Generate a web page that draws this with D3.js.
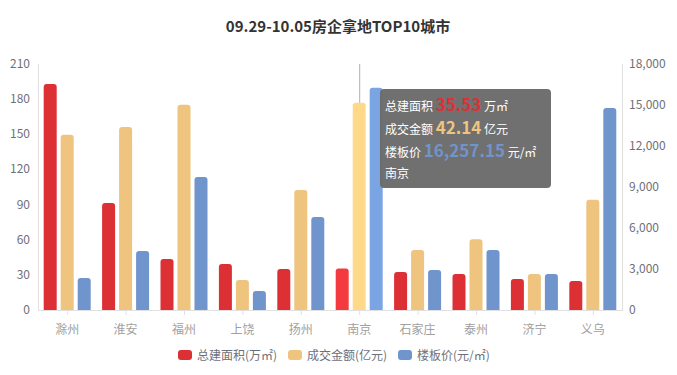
<!DOCTYPE html>
<meta charset="utf-8">
<title>房企拿地TOP10城市</title>
<style>
body { margin: 0; background: #fff; }
svg { font-family: "Noto Sans CJK SC", "Noto Sans", sans-serif; }
</style>
<svg width="677" height="375"></svg>
<script src="https://cdn.jsdelivr.net/npm/d3@7"></script>
<script>

var cities = ["滁州", "淮安", "福州", "上饶", "扬州", "南京", "石家庄", "泰州", "济宁", "义乌"];
var area = [193, 91.4, 43.5, 39.3, 35, 35.53, 32.5, 30.7, 26.5, 24.8];     // 万㎡
var amount = [35.6, 37.2, 41.7, 6.1, 24.4, 42.14, 12.2, 14.4, 7.3, 22.4];  // 亿元
var price = [2340, 4320, 9730, 1390, 6800, 16257.15, 2930, 4390, 2630, 14780]; // 元/㎡
var leftTicks = [0, 30, 60, 90, 120, 150, 180, 210];
var rightTicks = [0, 3000, 6000, 9000, 12000, 15000, 18000];
var seriesNames = ["总建面积(万㎡)", "成交金额(亿元)", "楼板价(元/㎡)"];
var hoverIndex = 5;

var colors = ["#dc3035", "#eec47f", "#7094cc"],
    hot = ["#f23a3f", "#ffd98a", "#7ba4e2"];

var svg = d3.select("svg"),
    pl = 38, pr = 622, pt = 64, pb = 310;

var x = d3.scaleBand().domain(cities).range([pl, pr]);
var yL = d3.scaleLinear().domain([0, 210]).range([pb, pt]);
var yA = d3.scaleLinear().domain([0, 50]).range([pb, pt]);
var yR = d3.scaleLinear().domain([0, 18000]).range([pb, pt]);

svg.append("text")
    .attr("x", 338).attr("y", 32)
    .attr("text-anchor", "middle")
    .attr("font-size", 15).attr("font-weight", "bold")
    .attr("fill", "#333")
    .text("09.29-10.05房企拿地TOP10城市");

// axes lines
svg.append("line").attr("x1", pl + 0.5).attr("x2", pl + 0.5).attr("y1", pt).attr("y2", pb).attr("stroke", "#e0e0e0");
svg.append("line").attr("x1", pr + 0.5).attr("x2", pr + 0.5).attr("y1", pt).attr("y2", pb).attr("stroke", "#e0e0e0");

svg.selectAll(".lt").data(leftTicks).enter().append("text")
    .attr("x", 30).attr("y", function(d) { return yL(d) + 4; })
    .attr("text-anchor", "end").attr("font-size", 12).attr("fill", "#6e7079")
    .text(function(d) { return d; });

svg.selectAll(".rt").data(rightTicks).enter().append("text")
    .attr("x", 629).attr("y", function(d) { return yR(d) + 4; })
    .attr("font-size", 12).attr("fill", "#6e7079")
    .text(d3.format(","));

// hover line
svg.append("line")
    .attr("x1", x(cities[hoverIndex]) + x.bandwidth() / 2 + 0.5)
    .attr("x2", x(cities[hoverIndex]) + x.bandwidth() / 2 + 0.5)
    .attr("y1", pt).attr("y2", pb)
    .attr("stroke", "#b0b0b0");

var barW = 13, step = 17;
var series = [
  { vals: area, y: yL },
  { vals: amount, y: yA },
  { vals: price, y: yR }
];

function barPath(x0, y0, w, h, r) {
  r = Math.min(r, h);
  return "M" + x0 + "," + (y0 + h) + "V" + (y0 + r) +
    "Q" + x0 + "," + y0 + " " + (x0 + r) + "," + y0 +
    "H" + (x0 + w - r) + "Q" + (x0 + w) + "," + y0 + " " + (x0 + w) + "," + (y0 + r) +
    "V" + (y0 + h) + "Z";
}

series.forEach(function(s, k) {
  svg.append("g").selectAll("path")
    .data(s.vals).enter().append("path")
      .attr("d", function(d, i) {
        var cx = x(cities[i]) + x.bandwidth() / 2;
        var x0 = cx - barW / 2 + (k - 1) * step;
        var y0 = s.y(d);
        return barPath(x0, y0, barW, pb - y0, 3);
      })
      .attr("fill", function(d, i) { return i === hoverIndex ? hot[k] : colors[k]; });
});

// x axis
svg.append("line").attr("x1", pl).attr("x2", pr + 1).attr("y1", pb + 0.5).attr("y2", pb + 0.5).attr("stroke", "#e0e0e0");
svg.selectAll(".xt").data(cities).enter().append("line")
    .attr("x1", function(d) { return x(d) + x.bandwidth() / 2 + 0.5; })
    .attr("x2", function(d) { return x(d) + x.bandwidth() / 2 + 0.5; })
    .attr("y1", pb).attr("y2", pb + 5)
    .attr("stroke", "#e0e0e0");
svg.selectAll(".xl").data(cities).enter().append("text")
    .attr("x", function(d) { return x(d) + x.bandwidth() / 2; })
    .attr("y", 334)
    .attr("text-anchor", "middle").attr("font-size", 12).attr("fill", "#a0a0a0")
    .text(function(d) { return d; });

// legend
var legX = [178, 288, 398];
var leg = svg.selectAll(".leg").data(seriesNames).enter().append("g")
    .attr("transform", function(d, i) { return "translate(" + legX[i] + ",350)"; });
leg.append("rect").attr("width", 14).attr("height", 10).attr("rx", 3)
    .attr("fill", function(d, i) { return colors[i]; });
leg.append("text").attr("x", 19).attr("y", 10)
    .attr("font-size", 12).attr("fill", "#6e7079")
    .text(function(d) { return d; });

// tooltip
var tip = svg.append("g").attr("transform", "translate(380,89)");
tip.append("rect").attr("width", 171).attr("height", 99).attr("rx", 4)
    .attr("fill", "#6b6b6b").attr("opacity", 0.97);
var rows = [
  { label: "总建面积 ", val: d3.format(".2f")(area[hoverIndex]), unit: " 万㎡", c: colors[0], y: 22 },
  { label: "成交金额 ", val: d3.format(".2f")(amount[hoverIndex]), unit: " 亿元", c: colors[1], y: 45 },
  { label: "楼板价 ", val: d3.format(",.2f")(price[hoverIndex]), unit: " 元/㎡", c: colors[2], y: 68 }
];
rows.forEach(function(r) {
  var t = tip.append("text").attr("x", 5).attr("y", r.y).attr("fill", "#fff").attr("font-size", 12);
  t.append("tspan").text(r.label);
  t.append("tspan").attr("font-size", 17).attr("font-weight", "bold").attr("fill", r.c).text(r.val);
  t.append("tspan").text(r.unit);
});
tip.append("text").attr("x", 5).attr("y", 89).attr("fill", "#fff").attr("font-size", 12)
    .text(cities[hoverIndex]);

</script>
